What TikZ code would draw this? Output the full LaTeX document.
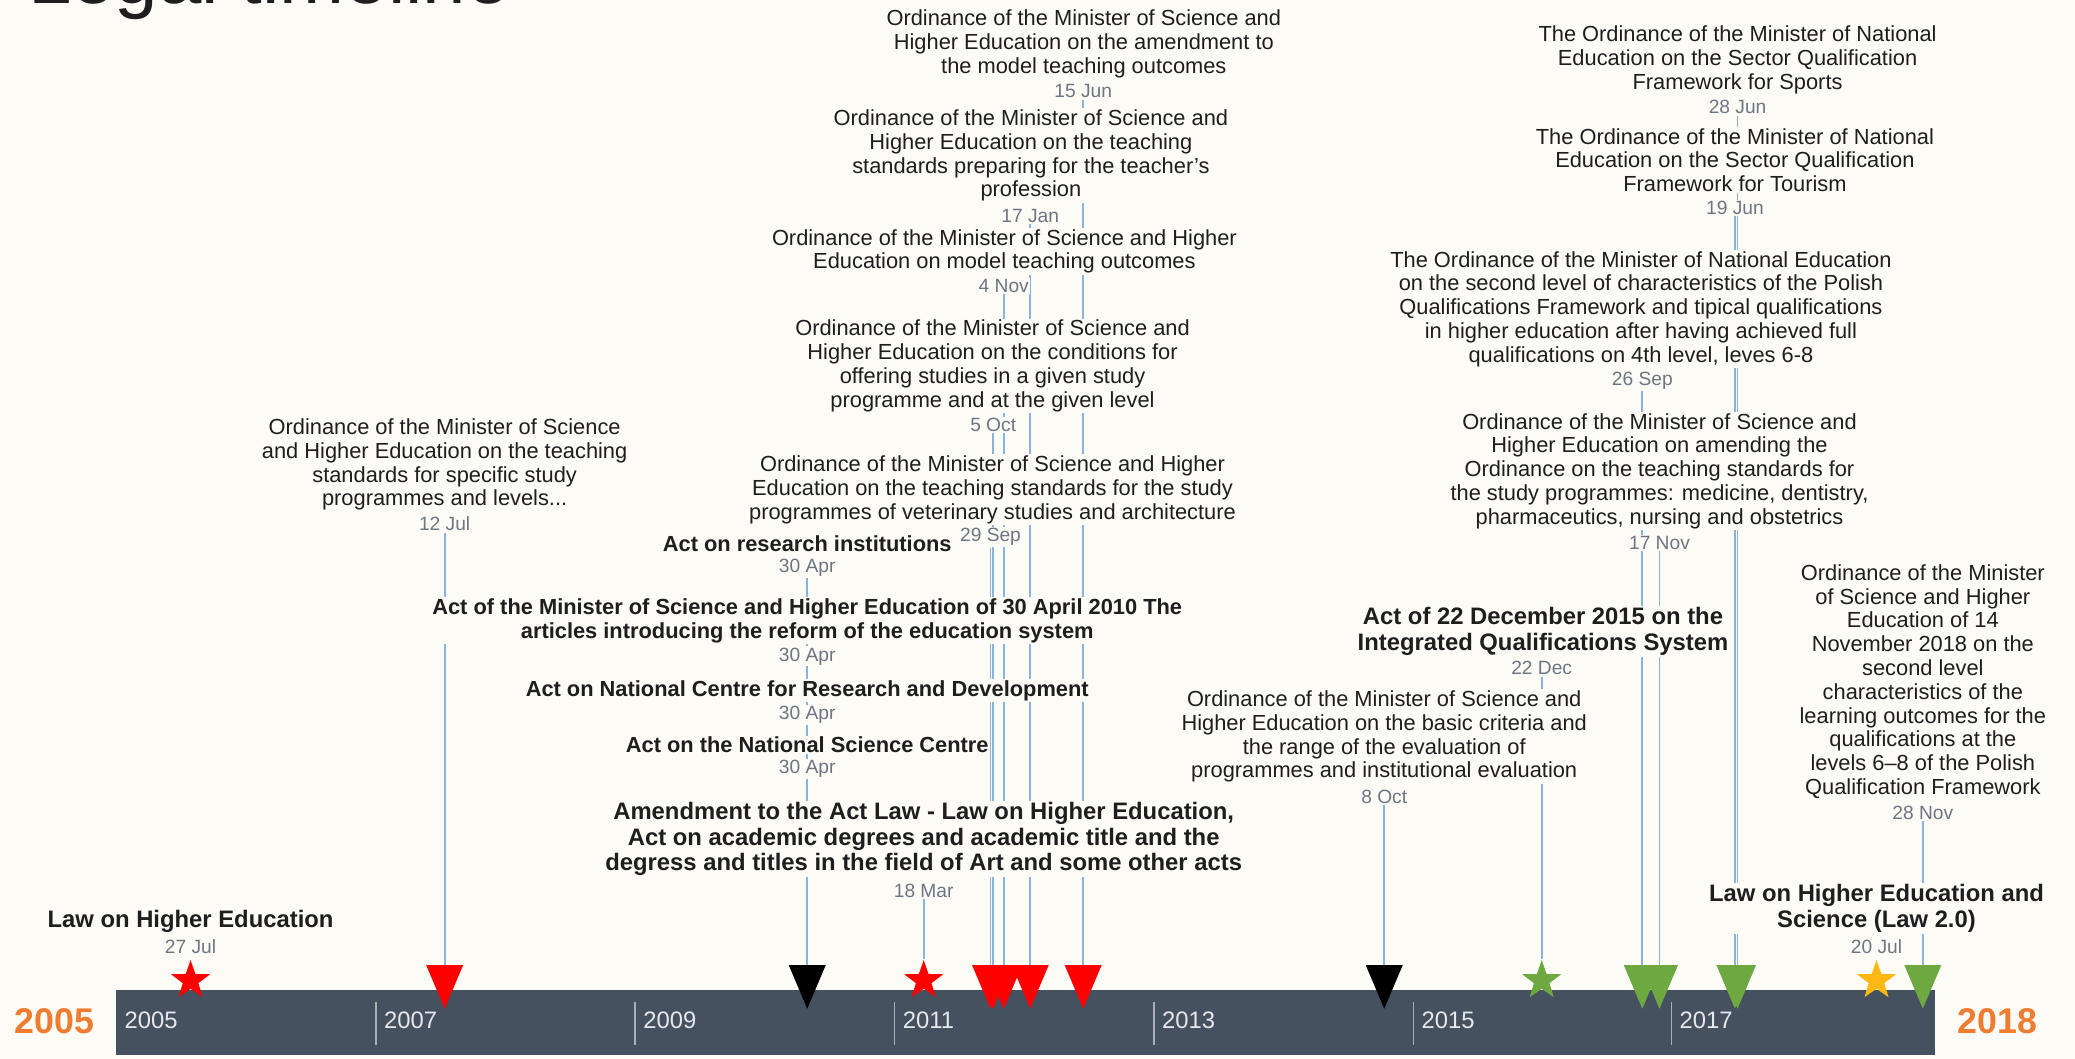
\documentclass[tikz,border=0pt]{standalone}
\usepackage{fontspec}
\setmainfont{Liberation Sans}
\usepackage{xcolor}
\usetikzlibrary{shapes.geometric}

\definecolor{paper}{RGB}{252,251,246}
\definecolor{ink}{RGB}{30,30,30}
\definecolor{dategrey}{RGB}{110,118,130}
\definecolor{stemblue}{RGB}{138,180,222}
\definecolor{barslate}{RGB}{69,81,95}
\definecolor{barlight}{RGB}{230,232,235}
\definecolor{yeardiv}{RGB}{170,175,182}
\definecolor{markred}{RGB}{255,0,0}
\definecolor{markgreen}{RGB}{110,168,64}
\definecolor{markorange}{RGB}{255,184,18}
\definecolor{yearorange}{RGB}{238,125,49}

\pgfdeclarelayer{background}
\pgfsetlayers{background,main}

\begin{document}
\begin{tikzpicture}[x=1pt, y=-1pt,
	every node/.style={inner sep=1pt},
	ordbox/.style={fill=paper, align=center, text=ink, font=\fontsize{16.5}{18}\selectfont},
	actbox/.style={fill=paper, align=center, text=ink, font=\fontsize{16.5}{18}\selectfont\bfseries},
	lawbox/.style={fill=paper, align=center, text=ink, font=\fontsize{18}{19.5}\selectfont\bfseries},
	datebox/.style={fill=paper, text=dategrey, font=\fontsize{14.5}{16}\selectfont},
	stem/.style={draw=stemblue, line width=1.4pt},
	tri/.style={isosceles triangle, isosceles triangle stretches, shape border rotate=270, minimum width=28pt, minimum height=33pt, inner sep=0pt},
	starmark/.style={star, star points=5, star point ratio=2.5, minimum size=31pt, inner sep=0pt},
	baryear/.style={anchor=west, text=barlight, font=\fontsize{18}{20}\selectfont},
	bigyear/.style={anchor=west, text=yearorange, font=\fontsize{27}{30}\selectfont\bfseries}]
	
	\useasboundingbox (0,0) rectangle (1568,800);
	\begin{pgfonlayer}{background}
		\fill[paper] (0,0) rectangle (1568,800);
	\end{pgfonlayer}
	
	%Title
	\node[anchor=base west, inner sep=0pt, text=ink, font=\fontsize{59}{60}\selectfont] (title) at (21,3) {Legal timeline};
	
	%Bar
	\fill[barslate] (88,748) rectangle (1462,797);
	\foreach \x in {284,480,676,872,1068,1263}
		\draw[yeardiv, line width=1.2pt] (\x,757) -- (\x,790);
	\foreach \x/\yr in {88/2005,284/2007,480/2009,676/2011,872/2013,1068/2015,1263/2017}
		\node[baryear] (bar\yr) at (\x+5,771) {\yr};
	\node[bigyear] (start) at (10,772) {2005};
	\node[bigyear] (end) at (1478,772) {2018};
	
	%2005 - 2007
	\node[lawbox] (l0507) at (144,696) {Law on Higher Education};
	\node[datebox] (d0507) at (144,715) {27 Jul};
	\node[ordbox] (o0707) at (336,351) {Ordinance of the Minister of Science\\and Higher Education on the teaching\\standards for specific study\\programmes and levels...};
	\node[datebox] (d0707) at (336,396) {12 Jul};
	
	%2010 acts
	\node[actbox] (a1004a) at (610,411) {Act on research institutions};
	\node[datebox] (d1004a) at (610,429) {30 Apr};
	\node[actbox] (a1004b) at (610,469) {Act of the Minister of Science and Higher Education of 30 April 2010 The\\articles introducing the reform of the education system};
	\node[datebox] (d1004b) at (610,496) {30 Apr};
	\node[actbox] (a1004c) at (610,522) {Act on National Centre for Research and Development};
	\node[datebox] (d1004c) at (610,540) {30 Apr};
	\node[actbox] (a1004d) at (610,563) {Act on the National Science Centre};
	\node[datebox] (d1004d) at (610,581) {30 Apr};
	
	%2011 - 2012
	\node[lawbox] (l1103) at (698,634) {Amendment to the Act Law - Law on Higher Education,\\Act on academic degrees and academic title and the\\degress and titles in the field of Art and some other acts};
	\node[datebox] (d1103) at (698,673) {18 Mar};
	\node[ordbox] (o1206) at (819,33) {Ordinance of the Minister of Science and\\Higher Education on the amendment to\\the model teaching outcomes};
	\node[datebox] (d1206) at (818.5,69) {15 Jun};
	\node[ordbox] (o1201) at (779,117.5) {Ordinance of the Minister of Science and\\Higher Education on the teaching\\standards preparing for the teacher’s\\profession};
	\node[datebox] (d1201) at (778.5,163) {17 Jan};
	\node[ordbox] (o1111) at (759,190) {Ordinance of the Minister of Science and Higher\\Education on model teaching outcomes};
	\node[datebox] (d1111) at (758.5,216) {4 Nov};
	\node[ordbox] (o1110) at (750,276.5) {Ordinance of the Minister of Science and\\Higher Education on the conditions for\\offering studies in a given study\\programme and at the given level};
	\node[datebox] (d1110) at (750.5,321) {5 Oct};
	\node[ordbox] (o1109) at (750,370) {Ordinance of the Minister of Science and Higher\\Education on the teaching standards for the study\\programmes of veterinary studies and architecture};
	\node[datebox] (d1109) at (748.5,406) {29 Sep};
	
	%2014 - 2016
	\node[ordbox] (o1410) at (1046,556.5) {Ordinance of the Minister of Science and\\Higher Education on the basic criteria and\\the range of the evaluation of\\programmes and institutional evaluation};
	\node[datebox] (d1410) at (1046,602) {8 Oct};
	\node[lawbox] (l1512) at (1166,477) {Act of 22 December 2015 on the\\Integrated Qualifications System};
	\node[datebox] (d1512) at (1165,505) {22 Dec};
	\node[ordbox] (o1609) at (1240,233.5) {The Ordinance of the Minister of National Education\\on the second level of characteristics of the Polish\\Qualifications Framework and tipical qualifications\\in higher education after having achieved full\\qualifications on 4th level, leves 6-8};
	\node[datebox] (d1609) at (1241,288) {26 Sep};
	\node[ordbox] (o1611) at (1254,356) {Ordinance of the Minister of Science and\\Higher Education on amending the\\Ordinance on the teaching standards for\\the study programmes: medicine, dentistry,\\pharmaceutics, nursing and obstetrics};
	\node[datebox] (d1611) at (1254,410) {17 Nov};
	
	%2017 - 2018
	\node[ordbox] (o1706b) at (1313,45) {The Ordinance of the Minister of National\\Education on the Sector Qualification\\Framework for Sports};
	\node[datebox] (d1706b) at (1313,81) {28 Jun};
	\node[ordbox] (o1706a) at (1311,121) {The Ordinance of the Minister of National\\Education on the Sector Qualification\\Framework for Tourism};
	\node[datebox] (d1706a) at (1311,157) {19 Jun};
	\node[lawbox] (l1807) at (1418,686.5) {Law on Higher Education and\\Science (Law 2.0)};
	\node[datebox] (d1807) at (1418,715) {20 Jul};
	\node[ordbox] (o1811) at (1453,515) {Ordinance of the Minister\\of Science and Higher\\Education of 14\\November 2018 on the\\second level\\characteristics of the\\learning outcomes for the\\qualifications at the\\levels 6–8 of the Polish\\Qualification Framework};
	\node[datebox] (d1811) at (1453,614) {28 Nov};
	
	%Markers
	\node[starmark, fill=markred] (m0507) at (144,741) {};
	\node[tri, fill=markred] (m0707) at (336,738.5) {};
	\node[tri, fill=black] (m1004) at (610,738.5) {};
	\node[starmark, fill=markred] (m1103) at (698,741) {};
	\node[tri, fill=markred] (m1109) at (748.5,738.5) {};
	\node[tri, fill=markred] (m1110) at (750.5,738.5) {};
	\node[tri, fill=markred] (m1111) at (758.5,738.5) {};
	\node[tri, fill=markred] (m1201) at (778.5,738.5) {};
	\node[tri, fill=markred] (m1206) at (818.5,738.5) {};
	\node[tri, fill=black] (m1410) at (1046,738.5) {};
	\node[starmark, fill=markgreen] (m1512) at (1165,741) {};
	\node[tri, fill=markgreen] (m1609) at (1241,738.5) {};
	\node[tri, fill=markgreen] (m1611) at (1254,738.5) {};
	\node[tri, fill=markgreen] (m1706a) at (1311,738.5) {};
	\node[tri, fill=markgreen] (m1706b) at (1313,738.5) {};
	\node[starmark, fill=markorange] (m1807) at (1418,741) {};
	\node[tri, fill=markgreen] (m1811) at (1453,738.5) {};
	
	%Stems
	\begin{pgfonlayer}{background}
		\draw[stem] (d0707.south) -- (m0707.north);
		\draw[stem] (d1004a.south) -- (m1004.north);
		\draw[stem] (d1103.south) -- (m1103.north);
		\draw[stem] (d1109.south) -- (m1109.north);
		\draw[stem] (d1110.south) -- (m1110.north);
		\draw[stem] (d1111.south) -- (m1111.north);
		\draw[stem] (d1201.south) -- (m1201.north);
		\draw[stem] (d1206.south) -- (m1206.north);
		\draw[stem] (d1410.south) -- (m1410.north);
		\draw[stem] (d1512.south) -- (m1512.north);
		\draw[stem] (d1609.south) -- (m1609.north);
		\draw[stem] (d1611.south) -- (m1611.north);
		\draw[stem] (d1706a.south) -- (m1706a.north);
		\draw[stem] (d1706b.south) -- (m1706b.north);
		\draw[stem] (d1811.south) -- (m1811.north);
	\end{pgfonlayer}
\end{tikzpicture}
\end{document}
